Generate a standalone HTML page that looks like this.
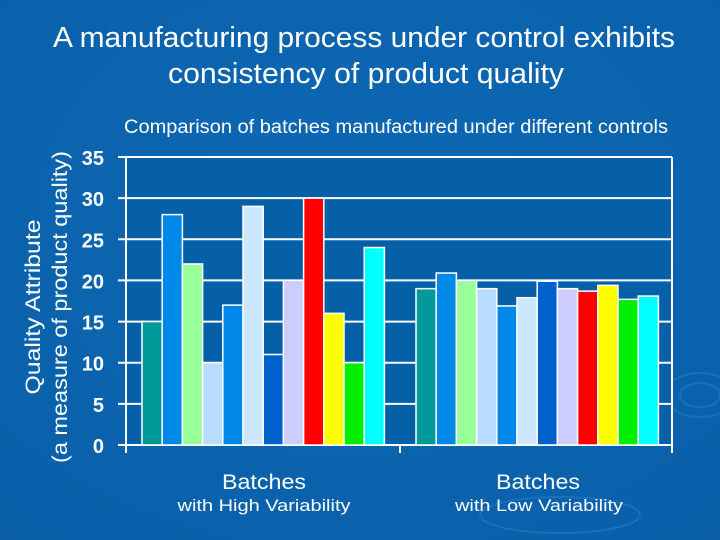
<!DOCTYPE html>
<html><head><meta charset="utf-8"><style>
body{margin:0;width:720px;height:540px;overflow:hidden;background:#0b64b0;font-family:"Liberation Sans",sans-serif;}
svg{display:block}
</style></head><body>
<svg width="720" height="540">
<defs><radialGradient id="bg" cx="0.5" cy="0.4" r="0.8"><stop offset="0" stop-color="#0d68b4"/><stop offset="1" stop-color="#0a5fa8"/></radialGradient></defs>
<rect width="720" height="540" fill="url(#bg)"/>
<g fill="none" stroke="#2a80c8" stroke-width="2" opacity="0.5">
<ellipse cx="560" cy="515" rx="80" ry="18"/><ellipse cx="700" cy="395" rx="20" ry="12"/><ellipse cx="700" cy="395" rx="35" ry="22"/>
</g>
<text x="364" y="47" fill="#fff" font-size="29" text-anchor="middle" textLength="622" lengthAdjust="spacingAndGlyphs">A manufacturing process under control exhibits</text>
<text x="366" y="83" fill="#fff" font-size="29" text-anchor="middle" textLength="396" lengthAdjust="spacingAndGlyphs">consistency of product quality</text>
<text x="396" y="133" fill="#fff" font-size="19" text-anchor="middle" textLength="544" lengthAdjust="spacingAndGlyphs">Comparison of batches manufactured under different controls</text>
<g transform="translate(40,307) rotate(-90)" fill="#fff" font-size="21" text-anchor="middle">
<text x="0" y="0" textLength="175" lengthAdjust="spacingAndGlyphs">Quality Attribute</text><text x="0" y="27" textLength="312" lengthAdjust="spacingAndGlyphs">(a measure of product quality)</text></g>
<g id="plot"></g>
<text x="264" y="489" fill="#fff" font-size="21" text-anchor="middle" textLength="84" lengthAdjust="spacingAndGlyphs">Batches</text>
<text x="264" y="511" fill="#fff" font-size="17" text-anchor="middle" textLength="173" lengthAdjust="spacingAndGlyphs">with High Variability</text>
<text x="538" y="489" fill="#fff" font-size="21" text-anchor="middle" textLength="84" lengthAdjust="spacingAndGlyphs">Batches</text>
<text x="539" y="511" fill="#fff" font-size="17" text-anchor="middle" textLength="168" lengthAdjust="spacingAndGlyphs">with Low Variability</text>
</svg>
<script>
const ticks=[0,5,10,15,20,25,30,35];
const highVar=[15,28,22,10,17,29,11,20,30,16,10,24];
const lowVar=[19,20.9,20,19,16.9,17.9,19.9,19,18.7,19.4,17.7,18.1];
const colors=["#009999","#0088e8","#99ff99","#b8dcff","#0088e8","#cce8ff","#0060cc","#ccccff","#ff0000","#ffff00","#00ee00","#00ffff"];
const NS="http://www.w3.org/2000/svg";
const g=document.getElementById('plot');
const L=126,R=672,T=157,B=445,ymax=35;
const y=v=>B-v/ymax*(B-T);
function mk(t,a){const e=document.createElementNS(NS,t);for(const k in a)e.setAttribute(k,a[k]);g.appendChild(e);return e;}
const bg=mk('rect',{x:L,y:T,width:R-L,height:B-T,fill:'#0560a8'});


ticks.forEach(t=>{
 const ln=mk('line',{x1:L-8,x2:R,y1:y(t),y2:y(t),stroke:'#fff','stroke-width':2});
 
 
 const tx=mk('text',{x:104,y:y(t)+8,fill:'#fff','font-size':20,'text-anchor':'end','font-weight':'bold'});
 tx.textContent=t;
 
 
});
const ax=mk('line',{x1:L,x2:L,y1:T,y2:B+8,stroke:'#fff','stroke-width':2});


const rb=mk('line',{x1:R,x2:R,y1:T,y2:B,stroke:'#fff','stroke-width':2});


[400,R].forEach(x=>{const tk=mk('line',{x1:x,x2:x,y1:B,y2:B+8,stroke:'#fff','stroke-width':2});
 
 });
function bars(vals,x0,name){
 const w=20.2;
 vals.forEach((v,i)=>{
  const r=mk('rect',{x:x0+i*w,y:y(v),width:w,height:B-y(v),fill:colors[i],stroke:'#fff','stroke-width':1.5});
  
  
 });
}
bars(highVar,142,'high-variability');
bars(lowVar,416,'low-variability');
</script>
</body></html>
